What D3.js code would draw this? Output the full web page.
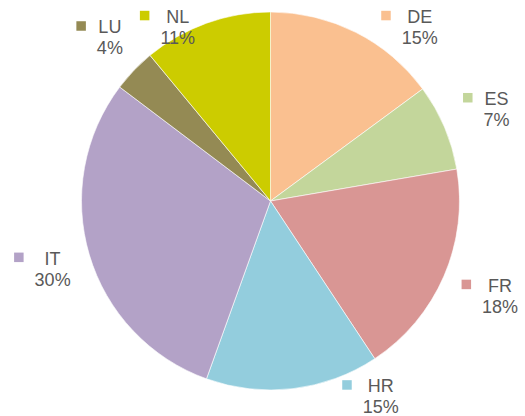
<!DOCTYPE html>
<html>
<head>
<meta charset="utf-8">
<script src="https://cdn.jsdelivr.net/npm/d3@7"></script>
<style>
  body { margin: 0; background: #fff; }
  text { font-family: "Liberation Sans", Arial, sans-serif; font-size: 18px; fill: #595959; }
</style>
</head>
<body>
<div id="chart"></div>
<script>
// shares per country, clockwise from 12 o'clock
var countries = ["DE", "ES", "FR", "HR", "IT", "LU", "NL"];
var shares = [14.9, 7.4, 18.4, 14.8, 29.8, 3.7, 11.0];
var colors = ["#fac090", "#c3d69b", "#d99694", "#93cddd", "#b3a2c7", "#948a54", "#cccc00"];

var width = 525, height = 416;
var cx = 270.5, cy = 201, radius = 189;

var data = countries.map(function(c, i) { return { name: c, value: shares[i], color: colors[i] }; });

var svg = d3.select("#chart").append("svg")
    .attr("width", width)
    .attr("height", height);

var pie = d3.pie().sort(null).value(function(d) { return d.value; });
var arc = d3.arc().innerRadius(0).outerRadius(radius);
var arcs = pie(data);

svg.append("g")
    .attr("transform", "translate(" + cx + "," + cy + ")")
    .selectAll("path")
    .data(arcs)
    .enter().append("path")
    .attr("d", arc)
    .attr("fill", function(d) { return d.data.color; })
    .attr("stroke", "#fff")
    .attr("stroke-width", 0.6);

// labels: key square + name, percent below
var sq = 9.5, gap = 11, base1 = 16.3, lineH = 21, boxH = base1 + lineH + 3.8;

var label = svg.append("g").selectAll("g")
    .data(arcs)
    .enter().append("g");

label.append("rect")
    .attr("y", base1 - 12)
    .attr("width", sq)
    .attr("height", sq)
    .attr("fill", function(d) { return d.data.color; });

var nameT = label.append("text").attr("y", base1).attr("text-anchor", "middle")
    .text(function(d) { return d.data.name; });
var pctT = label.append("text").attr("y", base1 + lineH).attr("text-anchor", "middle")
    .text(function(d) { return Math.round(d.data.value) + "%"; });

var boxes = [];
label.each(function(d, i) {
  var tw = Math.max(nameT.nodes()[i].getComputedTextLength(), pctT.nodes()[i].getComputedTextLength());
  d3.select(nameT.nodes()[i]).attr("x", sq + gap + tw / 2);
  d3.select(pctT.nodes()[i]).attr("x", sq + gap + tw / 2);
  boxes.push({ w: sq + gap + tw, h: boxH });
});

function nearest(b) {
  var px = Math.max(b.x, Math.min(cx, b.x + b.w));
  var py = Math.max(b.y, Math.min(cy, b.y + b.h));
  return Math.hypot(px - cx, py - cy);
}

var minY = 6.5, maxY = height + 1;

arcs.forEach(function(d, i) {
  var b = boxes[i];
  var a = (d.startAngle + d.endAngle) / 2;
  var dx = Math.sin(a), dy = -Math.cos(a);
  var t = 0;
  do {
    b.x = cx + dx * t - b.w / 2;
    b.y = cy + dy * t - b.h / 2;
    t += 0.5;
  } while (nearest(b) < radius + 16);
  if (b.y < minY || b.y + b.h > maxY) {
    b.y = Math.max(minY, Math.min(maxY - b.h, b.y));
    b.x = cx - b.w / 2;
    var s = dx >= 0 ? 1 : -1;
    while (nearest(b) < radius) b.x += s * 0.5;
  }
});

// push overlapping labels apart sideways
for (var j = 1; j < boxes.length; j++) {
  for (var i = 0; i < j; i++) {
    var p = boxes[i], q = boxes[j];
    var overlap = q.x < p.x + p.w + 10 && p.x < q.x + q.w + 10 && q.y < p.y + p.h && p.y < q.y + q.h;
    if (overlap) {
      if (q.x + q.w / 2 > p.x + p.w / 2) q.x = p.x + p.w + 17;
      else q.x = p.x - q.w - 17;
    }
  }
}

label.attr("transform", function(d, i) { return "translate(" + boxes[i].x + "," + boxes[i].y + ")"; });
</script>
</body>
</html>
